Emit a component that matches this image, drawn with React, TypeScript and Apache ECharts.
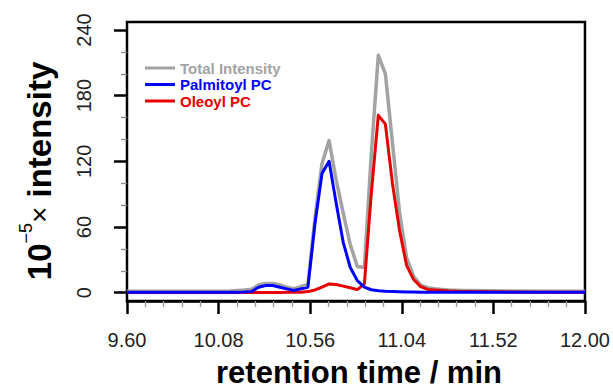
import React, { useEffect, useRef } from "react";
import * as echarts from "echarts";

// retention time (min)
const times = [
  9.6, 10.0, 10.142, 10.179, 10.216, 10.253, 10.29, 10.327, 10.364, 10.401, 10.438,
  10.474, 10.511, 10.548, 10.585, 10.622, 10.659, 10.696, 10.733, 10.77, 10.807,
  10.844, 10.88, 10.917, 10.954, 10.991, 11.028, 11.065, 11.102, 11.139, 11.176,
  11.213, 11.25, 11.287, 11.323, 11.36, 11.397, 11.6, 11.8, 12.0,
];
// 10^-5 x intensity
const totalIntensity = [
  1.3, 1.4, 1.6, 2.0, 2.5, 3.2, 7.0, 8.5, 8.5, 7.0, 5.0,
  3.6, 5.5, 7.5, 68, 118, 139, 103, 73, 44, 24,
  23, 126, 217, 200, 137, 74, 32, 15, 7, 4.5,
  3.5, 3.0, 2.5, 2.2, 2.0, 1.9, 1.6, 1.4, 1.3,
];
const palmitoylPC = [
  0.4, 0.4, 0.4, 0.5, 0.6, 1.0, 5.0, 6.5, 6.5, 5.0, 3.5,
  2.0, 3.5, 5.0, 63, 109, 120, 82, 46, 23, 11,
  5.0, 2.7, 1.8, 1.3, 1.0, 0.8, 0.7, 0.6, 0.5, 0.4,
  0.4, 0.4, 0.4, 0.4, 0.4, 0.4, 0.4, 0.4, 0.4,
];
const oleoylPC = [
  0.2, 0.2, 0.2, 0.2, 0.2, 0.2, 0.2, 0.2, 0.2, 0.2, 0.3,
  0.3, 0.3, 1.0, 2.5, 5.0, 8.0, 7.5, 6.0, 4.5, 2.8,
  8.0, 90, 162, 154, 100, 57, 25, 12, 5.5, 3.0,
  2.5, 2.0, 1.6, 1.3, 1.1, 1.0, 0.6, 0.4, 0.3,
];
const seriesNames = ["Total Intensity", "Palmitoyl PC", "Oleoyl PC"];
const yLabelValues = [0, 60, 120, 180, 240];
const yMinorValues = [0, 20, 40, 60, 80, 100, 120, 140, 160, 180, 200, 220, 240];

const FONT = "'Liberation Sans', Arial, Helvetica, sans-serif";
const GRAY = "#a3a3a3";
const BLUE = "#0000ff";
const RED = "#e80000";

export default function App() {
  const ref = useRef<HTMLDivElement>(null);
  useEffect(() => {
    if (!ref.current) return;
    const chart = echarts.init(ref.current, undefined, { renderer: "svg" });
    const pairs = (vals: number[]) => times.map((t, i) => [t, vals[i]]);
    const yBase = {
      type: "value",
      min: -7.6,
      max: 247.3,
      position: "left",
      splitLine: { show: false },
      axisLine: { show: false },
    };
    chart.setOption({
      animation: false,
      backgroundColor: "#fff",
      textStyle: { fontFamily: FONT },
      grid: {
        left: 127,
        right: 28,
        top: 22,
        bottom: 89,
        show: true,
        borderColor: "#000",
        borderWidth: 2.5,
        backgroundColor: "transparent",
      },
      legend: {
        orient: "vertical",
        left: 145,
        top: 60.5,
        padding: 0,
        icon: "rect",
        itemWidth: 30,
        itemHeight: 3,
        itemGap: 1.5,
        selectedMode: false,
        textStyle: { fontSize: 15, fontWeight: "bold", fontFamily: FONT },
        data: [
          { name: seriesNames[0], textStyle: { color: GRAY } },
          { name: seriesNames[1], textStyle: { color: BLUE } },
          { name: seriesNames[2], textStyle: { color: RED } },
        ],
      },
      xAxis: {
        type: "value",
        min: 9.6,
        max: 12.0,
        interval: 0.48,
        splitLine: { show: false },
        axisLine: { show: true, onZero: false, lineStyle: { color: "#000", width: 2.5 } },
        axisTick: { show: true, length: 13, lineStyle: { color: "#000", width: 2.5 } },
        minorTick: { show: true, splitNumber: 5, length: 6, lineStyle: { color: "#999", width: 1.3 } },
        axisLabel: {
          margin: 29,
          fontSize: 20,
          color: "#222",
          fontFamily: FONT,
          formatter: (v: number) => v.toFixed(2),
          showMinLabel: true,
          showMaxLabel: true,
        },
      },
      yAxis: [
        {
          ...yBase,
          axisTick: { show: true, length: 6, customValues: yMinorValues, lineStyle: { color: "#888", width: 1.3 } },
          axisLabel: { show: false },
        },
        {
          ...yBase,
          axisTick: { show: true, length: 13, customValues: yLabelValues, lineStyle: { color: "#000", width: 2.5 } },
          axisLabel: {
            show: true,
            customValues: yLabelValues,
            rotate: 90,
            margin: 33,
            fontSize: 20,
            color: "#222",
            fontFamily: FONT,
          },
        },
      ],
      series: [
        {
          name: seriesNames[0],
          type: "line",
          data: pairs(totalIntensity),
          showSymbol: false,
          symbol: "none",
          color: GRAY,
          lineStyle: { color: GRAY, width: 3.5, join: "round" },
          z: 2,
        },
        {
          name: seriesNames[2],
          type: "line",
          data: pairs(oleoylPC),
          showSymbol: false,
          symbol: "none",
          color: RED,
          lineStyle: { color: RED, width: 3, join: "round" },
          z: 3,
        },
        {
          name: seriesNames[1],
          type: "line",
          data: pairs(palmitoylPC),
          showSymbol: false,
          symbol: "none",
          color: BLUE,
          lineStyle: { color: BLUE, width: 3, join: "round" },
          z: 4,
        },
      ],
      graphic: [
        {
          type: "text",
          x: 39,
          y: 171,
          rotation: Math.PI / 2,
          style: {
            text: "{b|10}{s|\u22125}{m|\u00d7}{b| intensity}",
            align: "center",
            verticalAlign: "middle",
            fill: "#000",
            fontFamily: FONT,
            rich: {
              b: { fontSize: 33, fontWeight: "bold", lineHeight: 44, fontFamily: FONT, fill: "#000" },
              s: { fontSize: 18, lineHeight: 18, verticalAlign: "top", fontFamily: FONT, fill: "#000" },
              m: { fontSize: 28, lineHeight: 44, fontFamily: FONT, fill: "#000" },
            },
          },
        },
        {
          type: "text",
          x: 359,
          y: 372,
          style: {
            text: "retention time / min",
            align: "center",
            verticalAlign: "middle",
            fontSize: 31,
            fontWeight: "bold",
            fontFamily: FONT,
            fill: "#000",
          },
        },
      ],
    });
    return () => chart.dispose();
  }, []);
  return <div ref={ref} style={{ width: 613, height: 390, position: "absolute", left: 0, top: 0 }} />;
}
